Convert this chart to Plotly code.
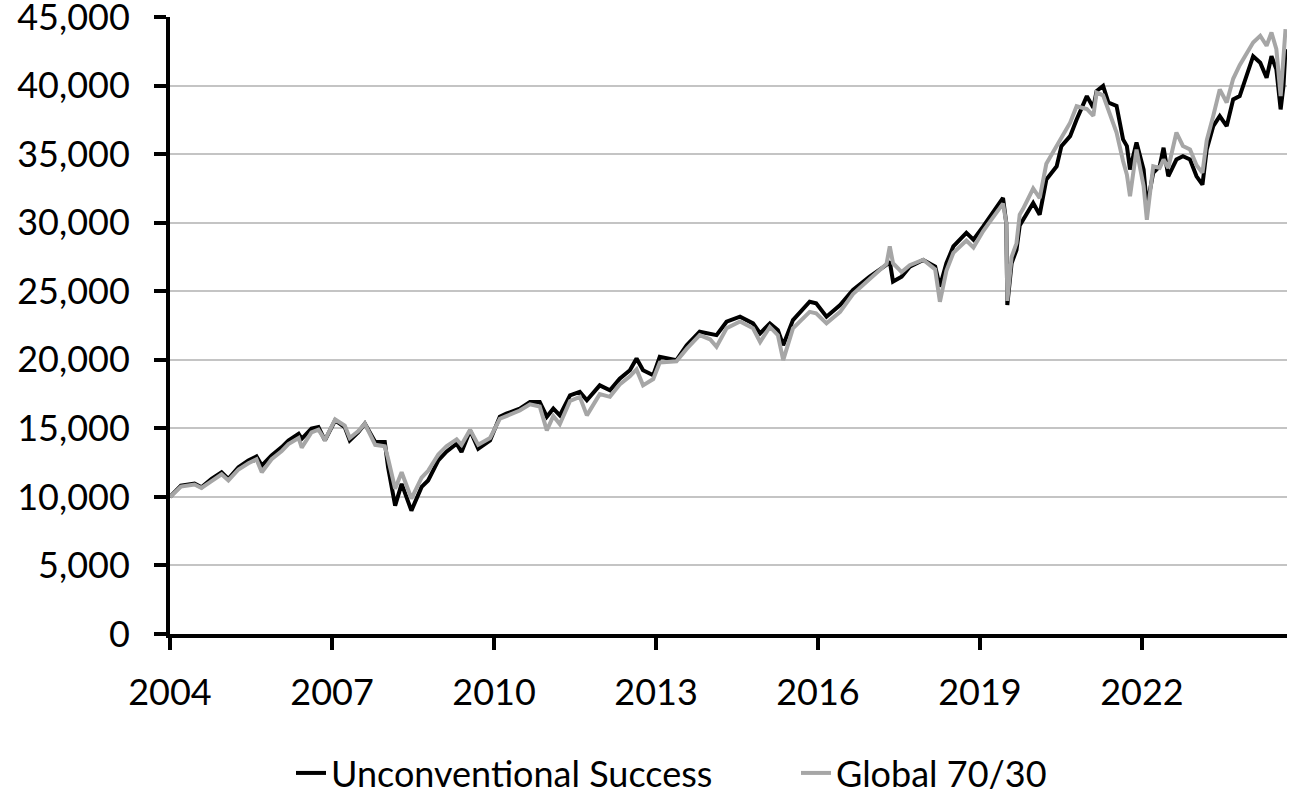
# external
import plotly
import plotly.graph_objects


##########
# Inputs #
##########

dates = [
    "2004-01-01", "2004-03-15", "2004-06-15", "2004-08-01", "2004-10-08", "2004-12-15",
    "2005-01-30", "2005-04-08", "2005-06-14", "2005-08-08", "2005-09-13", "2005-11-18",
    "2006-01-26", "2006-03-12", "2006-05-20", "2006-06-10", "2006-08-15", "2006-10-01",
    "2006-11-14", "2007-01-22", "2007-03-28", "2007-05-01", "2007-06-28", "2007-08-11",
    "2007-10-20", "2007-12-24", "2008-01-15", "2008-03-03", "2008-04-16", "2008-06-21",
    "2008-08-29", "2008-10-12", "2008-12-20", "2009-02-13", "2009-04-23", "2009-05-26",
    "2009-07-23", "2009-09-16", "2009-12-05", "2010-02-09", "2010-03-25", "2010-06-24",
    "2010-09-01", "2010-11-06", "2010-12-24", "2011-02-06", "2011-03-22", "2011-05-30",
    "2011-08-04", "2011-09-21", "2011-12-17", "2012-02-24", "2012-04-30", "2012-07-08",
    "2012-08-22", "2012-10-05", "2012-12-13", "2013-01-26", "2013-05-19", "2013-07-27",
    "2013-10-23", "2014-01-01", "2014-02-14", "2014-04-23", "2014-07-23", "2014-10-19",
    "2014-12-06", "2015-02-10", "2015-04-05", "2015-05-11", "2015-07-16", "2015-11-06",
    "2015-12-20", "2016-02-28", "2016-05-30", "2016-08-25", "2016-12-16", "2017-04-09",
    "2017-05-01", "2017-05-23", "2017-07-20", "2017-09-13", "2017-12-13", "2018-03-04",
    "2018-04-05", "2018-05-19", "2018-07-05", "2018-10-01", "2018-11-18", "2019-01-23",
    "2019-03-11", "2019-06-06", "2019-06-28", "2019-07-05", "2019-08-03", "2019-09-05",
    "2019-09-27", "2019-10-19", "2019-12-27", "2020-02-09", "2020-03-25", "2020-06-03",
    "2020-07-05", "2020-09-02", "2020-10-16", "2020-12-24", "2021-02-06", "2021-02-28",
    "2021-04-13", "2021-05-19", "2021-07-13", "2021-08-26", "2021-09-21", "2021-10-12",
    "2021-11-25", "2022-01-12", "2022-02-03", "2022-03-18", "2022-05-01", "2022-05-27",
    "2022-06-28", "2022-08-22", "2022-10-05", "2022-11-22", "2023-01-05", "2023-02-14",
    "2023-03-15", "2023-04-28", "2023-06-11", "2023-07-28", "2023-09-10", "2023-10-24",
    "2023-12-10", "2024-01-23", "2024-03-11", "2024-04-23", "2024-05-26", "2024-06-28",
    "2024-07-27", "2024-08-15", "2024-08-29",
]

unconventional_success = [
    10000, 10830, 10970, 10700, 11320, 11800,
    11320, 12170, 12660, 12950, 12290, 13020,
    13630, 14120, 14610, 14240, 14980, 15100,
    14120, 15590, 15100, 14120, 14730, 15340,
    14000, 14000, 12170, 9370, 10950, 9000,
    10730, 11200, 12660, 13300, 13880, 13270,
    14850, 13510, 14120, 15850, 16070, 16440,
    16920, 16920, 15850, 16440, 15950, 17410,
    17660, 17050, 18140, 17780, 18630, 19240,
    20100, 19240, 18880, 20220, 19980, 21070,
    22050, 21930, 21800, 22780, 23150, 22660,
    21930, 22660, 22170, 21070, 22900, 24240,
    24120, 23150, 24000, 25100, 26070, 26930,
    27170, 25710, 26070, 26800, 27290, 26800,
    25340, 27050, 28270, 29260, 28760, 29730,
    30460, 31810, 29980, 24000, 27050, 28020,
    29800, 30220, 31440, 30590, 33150, 34120,
    35590, 36320, 37540, 39240, 38390, 39610,
    39980, 38770, 38520, 36080, 35590, 33880,
    35850, 33880, 31200, 33640, 34120, 35470,
    33390, 34610, 34850, 34610, 33390, 32780,
    35340, 37050, 37780, 37050, 39000, 39240,
    40700, 42150, 41680, 40580, 42150, 41190,
    38270, 39980, 42660,
]

global_70_30 = [
    10000, 10750, 10900, 10650, 11150, 11650,
    11200, 12000, 12450, 12750, 11800, 12750,
    13350, 13850, 14300, 13600, 14700, 14900,
    14150, 15650, 15200, 14300, 14800, 15350,
    13800, 13700, 12800, 10600, 11800, 9880,
    11400, 11900, 13100, 13700, 14200, 13800,
    14900, 13800, 14300, 15700, 15900, 16300,
    16750, 16600, 14850, 15900, 15300, 17000,
    17300, 15950, 17500, 17300, 18200, 18800,
    19300, 18140, 18600, 19800, 19900, 20800,
    21800, 21500, 20950, 22300, 22800, 22300,
    21300, 22400, 21800, 19980, 22300, 23500,
    23400, 22660, 23500, 24800, 25900, 27000,
    28270, 27050, 26400, 26900, 27300, 26600,
    24240, 26500, 27800, 28700, 28200, 29400,
    30100, 31400, 30000, 24300, 27500, 28500,
    30600, 31000, 32500, 31800, 34300, 35590,
    36300, 37300, 38500, 38300, 37800, 39490,
    39300, 38200, 36580, 34500, 33500, 31930,
    35340, 32680, 30220, 34120, 34000, 34610,
    34000, 36580, 35600, 35340, 34200, 33640,
    36000, 37780, 39730, 38770, 40500, 41500,
    42300, 43150, 43640, 42910, 43880, 42660,
    39240, 41680, 44120,
]

tick_years = ["2004", "2007", "2010", "2013", "2016", "2019", "2022"]
y_ticks = [0, 5000, 10000, 15000, 20000, 25000, 30000, 35000, 40000, 45000]

series_names = ["Unconventional Success", "Global 70/30"]


###############
# Set styling #
###############

font_family = "Lato, 'Open Sans', sans-serif"
font_size = 36
black_colour = "#000000"
grey_colour = "#A6A6A6"
grid_colour = "#C4C4C4"

axis_style = {
    "showline": True,
    "linecolor": "black",
    "linewidth": 4,
    "ticks": "outside",
    "ticklen": 12,
    "tickwidth": 4,
    "tickcolor": "black",
    "zeroline": False,
    "automargin": False,
    "ticklabeloverflow": "allow",
}


#################
# Create traces #
#################

plot_data = [
    plotly.graph_objects.Scatter(
        x=dates,
        y=unconventional_success,
        name=series_names[0],
        mode="lines",
        line={"color": black_colour, "width": 4}
    ),
    plotly.graph_objects.Scatter(
        x=dates,
        y=global_70_30,
        name=series_names[1],
        mode="lines",
        line={"color": grey_colour, "width": 4}
    ),
]


#################
# Create layout #
#################

plot_layout = plotly.graph_objects.Layout(
    width=1291,
    height=798,
    plot_bgcolor="white",
    paper_bgcolor="white",
    font={"family": font_family, "size": font_size, "color": "black"},
    showlegend=True,
    margin={"l": 170, "r": 4, "t": 17, "b": 164},
    xaxis={
        **axis_style,
        "type": "date",
        "range": ["2004-01-01", "2024-09-08"],
        "tickvals": [f"{year}-01-01" for year in tick_years],
        "ticktext": tick_years,
        "showgrid": False,
        "ticklabelstandoff": 12,
    },
    yaxis={
        **axis_style,
        "range": [0, 45010],
        "tickvals": y_ticks,
        "tickformat": ",d",
        "showgrid": True,
        "gridcolor": grid_colour,
        "gridwidth": 1.5,
        "ticklabelstandoff": 17,
    },
    legend={
        "orientation": "h",
        "xref": "container",
        "yref": "container",
        "x": 0.2254,
        "xanchor": "left",
        "y": 0.0313,
        "yanchor": "middle",
        "font": {"size": font_size},
        "entrywidth": 460,
        "tracegroupgap": 0
    }
)


#############
# Save plot #
#############

figure = plotly.graph_objects.Figure(plot_data, plot_layout)

# drop the browser's default body margin so the figure fills the window
figure.write_html(
    "out.html",
    config={"displayModeBar": False},
    post_script="document.body.style.margin = '0'; document.body.style.overflow = 'hidden';"
)
